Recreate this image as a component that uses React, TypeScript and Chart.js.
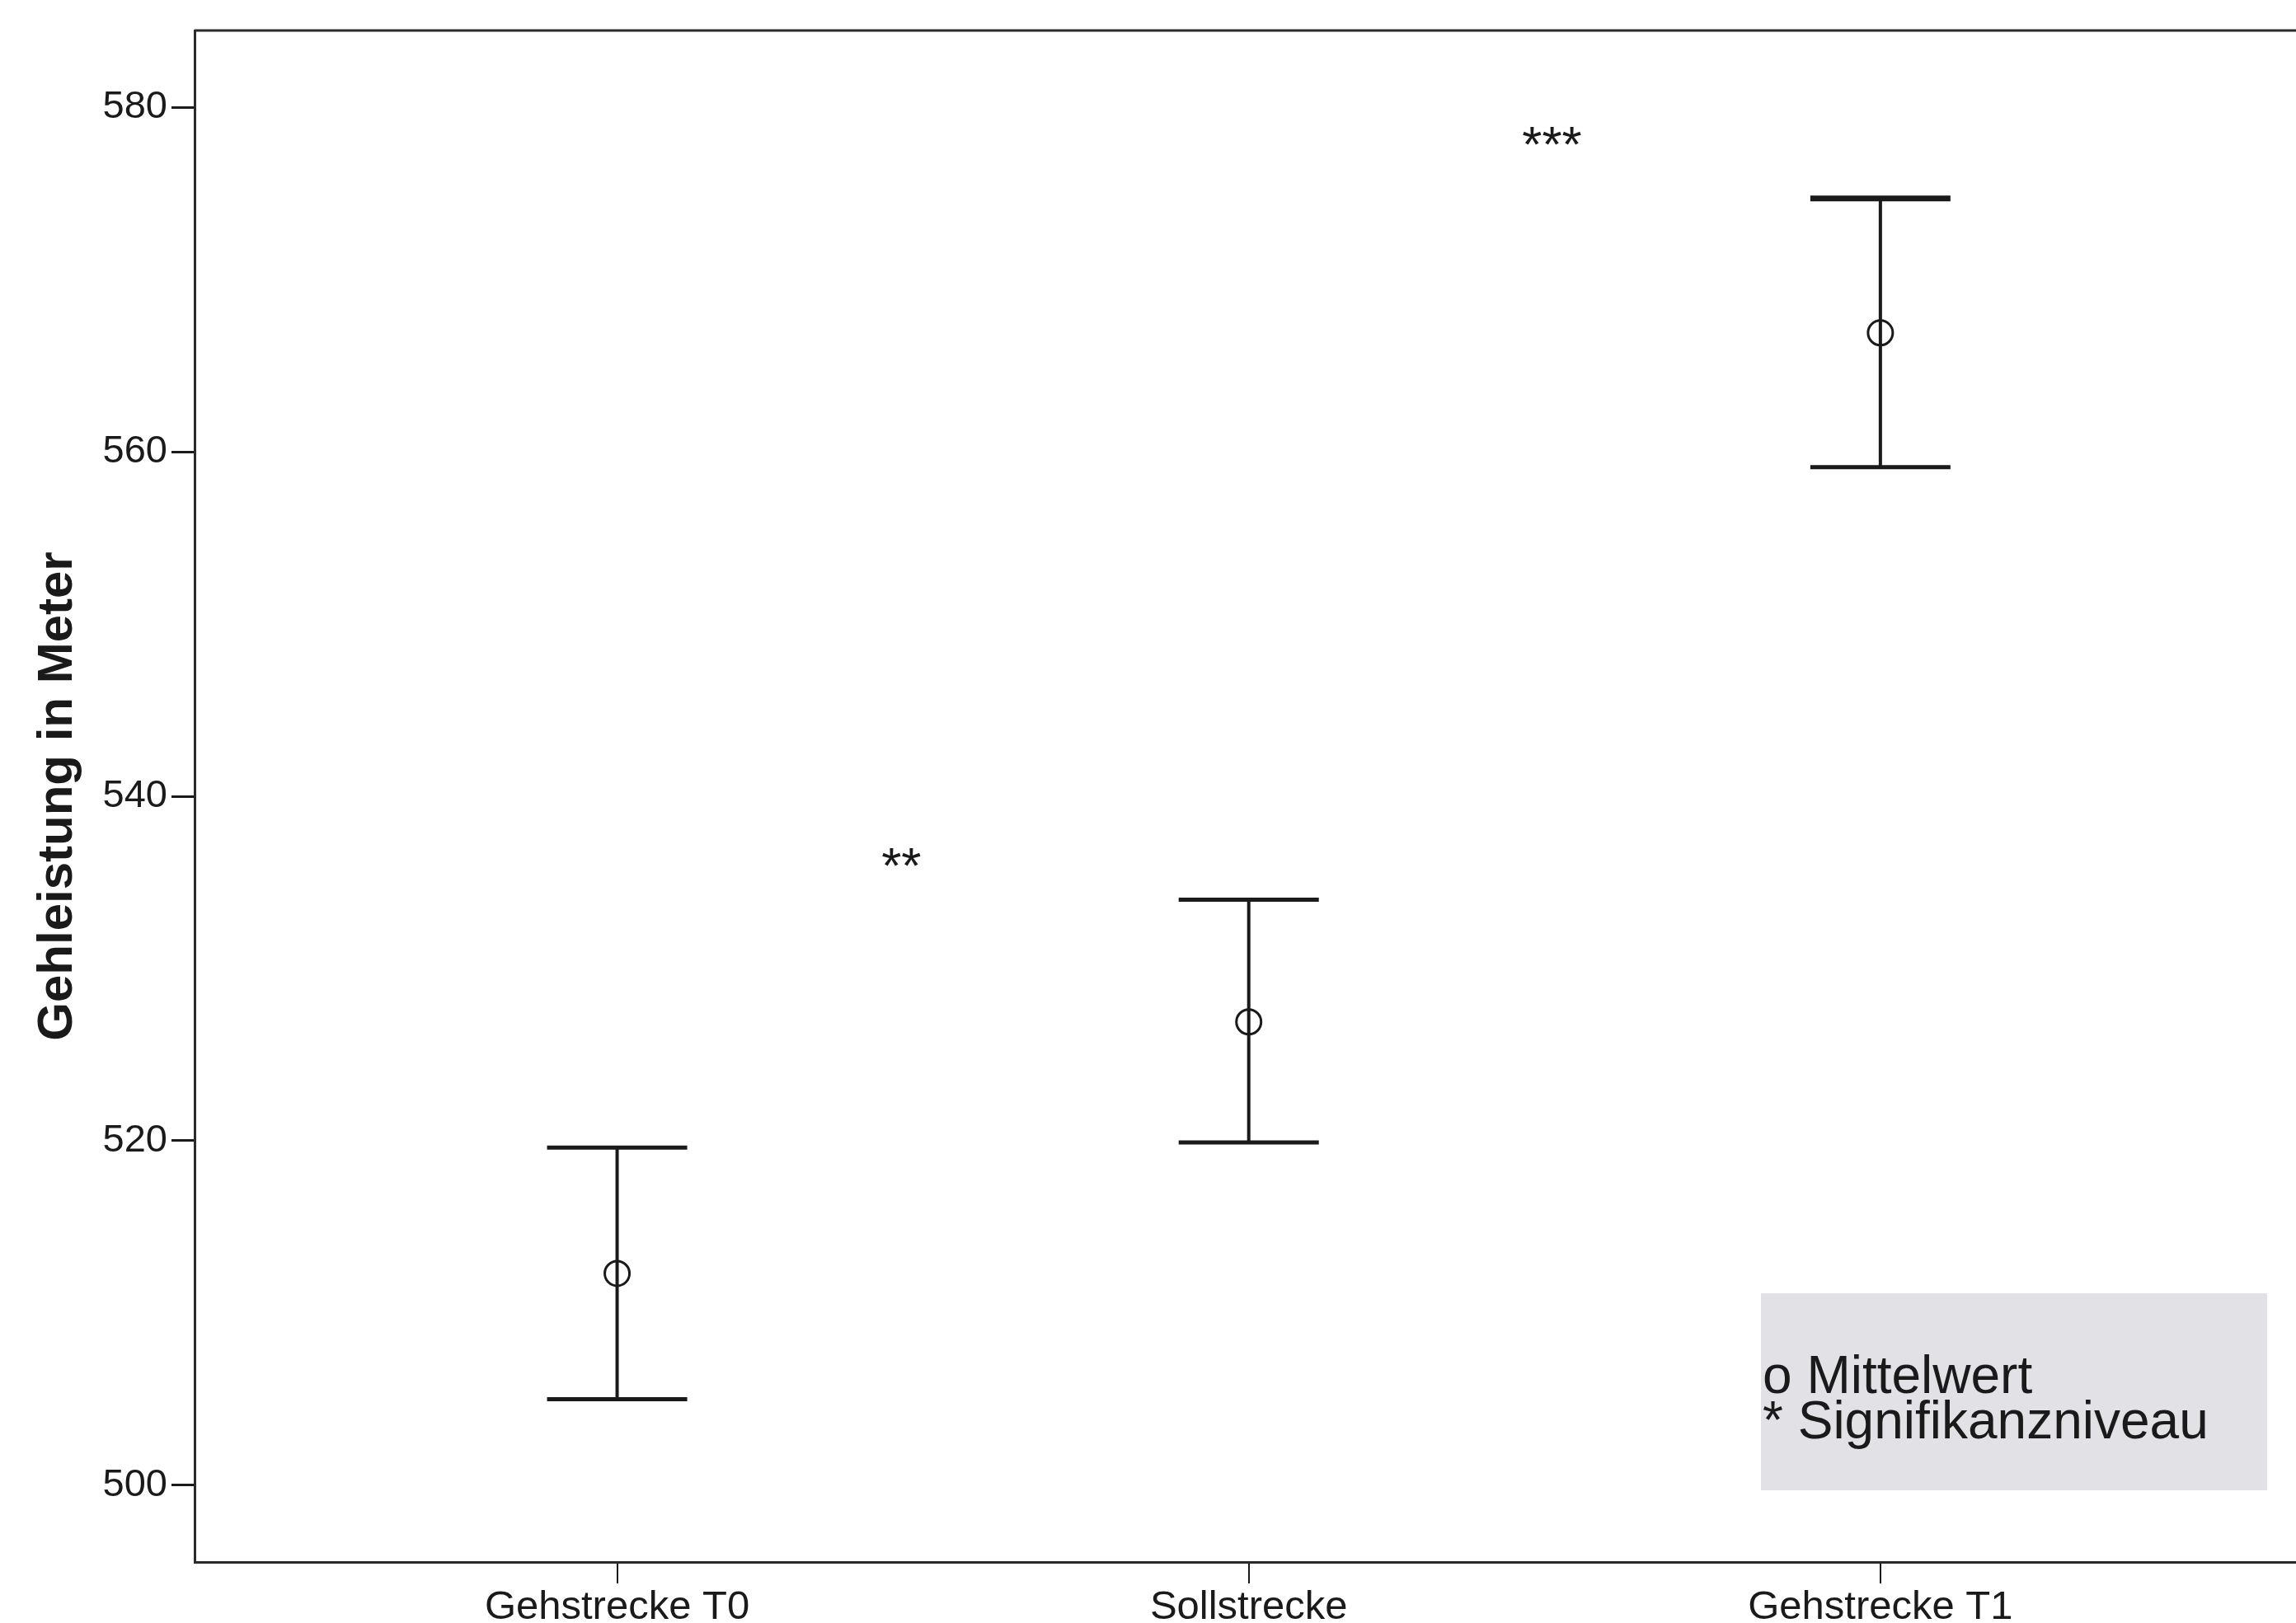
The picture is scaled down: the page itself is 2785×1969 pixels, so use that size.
import React, { useEffect, useRef } from "react";
import { Chart, registerables } from "chart.js";

Chart.register(...registerables);

// ---- data ----
const categories = ["Gehstrecke T0", "Sollstrecke", "Gehstrecke T1"];
const meanValues = [512.3, 526.9, 566.9];
const upperValues = [519.6, 534.0, 574.7];
const lowerValues = [505.0, 519.9, 559.1];
const yTickValues = [500, 520, 540, 560, 580];
const sigLabels = ["**", "***"];
const sigX = [1.45, 2.48];
const sigY = [536.3, 578.2];
const legendLines = ["o Mittelwert", "* Signifikanzniveau"];
const yTitle = "Gehleistung in Meter";

const Y_MIN = 495.55;
const Y_MAX = 584.45;
const X_MIN = 0.331;
const X_MAX = 3.658;

const FONT = "'Liberation Sans', Arial, sans-serif";
const INK = "#1a1a1a";

const W = 2785;
const H = 1969;

const overlayPlugin = {
  id: "overlay",
  beforeDatasetsDraw(chart: any) {
    const { ctx, scales, chartArea } = chart;
    const xs = scales.x;
    const ys = scales.y;
    ctx.save();
    ctx.strokeStyle = INK;
    ctx.lineCap = "butt";
    for (let i = 0; i < meanValues.length; i++) {
      const px = xs.getPixelForValue(i + 1);
      const pu = ys.getPixelForValue(upperValues[i]);
      const pl = ys.getPixelForValue(lowerValues[i]);
      ctx.lineWidth = 4;
      ctx.beginPath();
      ctx.moveTo(px, pu);
      ctx.lineTo(px, pl);
      ctx.stroke();
      ctx.lineWidth = i === 2 ? 7 : 5;
      ctx.beginPath();
      ctx.moveTo(px - 85, pu);
      ctx.lineTo(px + 85, pu);
      ctx.stroke();
      ctx.lineWidth = 5;
      ctx.beginPath();
      ctx.moveTo(px - 85, pl);
      ctx.lineTo(px + 85, pl);
      ctx.stroke();
    }
    // top frame line
    ctx.lineWidth = 3;
    ctx.strokeStyle = "#2a2a2a";
    ctx.beginPath();
    ctx.moveTo(chartArea.left, chartArea.top);
    ctx.lineTo(chartArea.right, chartArea.top);
    ctx.stroke();
    ctx.restore();
  },
  afterDraw(chart: any) {
    const { ctx, scales, chartArea } = chart;
    const xs = scales.x;
    const ys = scales.y;
    ctx.save();
    // significance stars
    const starSize = 62;
    ctx.font = `${starSize}px ${FONT}`;
    ctx.fillStyle = INK;
    ctx.textAlign = "center";
    ctx.textBaseline = "alphabetic";
    for (let i = 0; i < sigLabels.length; i++) {
      const px = xs.getPixelForValue(sigX[i]);
      const py = ys.getPixelForValue(sigY[i]);
      ctx.fillText(sigLabels[i], px, py + starSize * 0.45);
    }
    // legend box
    const boxRight = chartArea.right - 35;
    const boxBottom = chartArea.bottom - 87;
    const boxW = 614;
    const boxH = 239;
    ctx.fillStyle = "#e1e1e6";
    ctx.fillRect(boxRight - boxW, boxBottom - boxH, boxW, boxH);
    ctx.fillStyle = INK;
    ctx.font = `64px ${FONT}`;
    ctx.textAlign = "left";
    ctx.textBaseline = "alphabetic";
    const textX = boxRight - boxW + 2;
    ctx.fillText(legendLines[0], textX, boxBottom - boxH + 121);
    ctx.fillText(legendLines[1], textX, boxBottom - boxH + 176);
    ctx.restore();
  },
};

export default function App() {
  const canvasRef = useRef<HTMLCanvasElement | null>(null);

  useEffect(() => {
    const canvas = canvasRef.current;
    if (!canvas) return;
    const chart = new Chart(canvas, {
      type: "scatter",
      data: {
        datasets: [
          {
            label: "Mittelwert",
            data: meanValues.map((v, i) => ({ x: i + 1, y: v })),
            pointStyle: "circle",
            pointRadius: 15,
            pointBorderWidth: 3,
            pointBorderColor: INK,
            pointBackgroundColor: "rgba(0,0,0,0)",
            showLine: false,
          },
        ],
      },
      options: {
        animation: false,
        responsive: false,
        devicePixelRatio: 1,
        layout: { autoPadding: false, padding: { top: 37, left: 0, right: 0, bottom: 0 } },
        plugins: {
          legend: { display: false },
          tooltip: { enabled: false },
          title: { display: false },
        },
        scales: {
          x: {
            type: "linear",
            min: X_MIN,
            max: X_MAX,
            afterBuildTicks: (scale: any) => {
              scale.ticks = categories.map((_, i) => ({ value: i + 1 }));
            },
            afterFit: (scale: any) => {
              scale.height = H - 1895;
              scale.paddingLeft = 0;
              scale.paddingRight = 0;
            },
            ticks: {
              autoSkip: false,
              maxRotation: 0,
              padding: 0,
              color: INK,
              font: { family: FONT, size: 49 },
              callback: (v: any) => categories[Math.round(Number(v)) - 1] ?? "",
            },
            grid: {
              drawOnChartArea: false,
              drawTicks: true,
              tickLength: 26,
              color: INK,
              lineWidth: 2,
            },
            border: { display: true, color: "#2a2a2a", width: 3 },
          },
          y: {
            type: "linear",
            min: Y_MIN,
            max: Y_MAX,
            afterBuildTicks: (scale: any) => {
              scale.ticks = yTickValues.map((v) => ({ value: v }));
            },
            afterFit: (scale: any) => {
              scale.width = 236;
              scale.paddingTop = 0;
              scale.paddingBottom = 0;
            },
            ticks: {
              padding: 5,
              color: INK,
              font: { family: FONT, size: 47 },
              callback: (v: any) => String(v),
            },
            grid: {
              drawOnChartArea: false,
              drawTicks: true,
              tickLength: 28,
              color: INK,
              lineWidth: 3,
            },
            border: { display: true, color: "#2a2a2a", width: 3 },
            title: {
              display: true,
              text: yTitle,
              color: INK,
              font: { family: FONT, size: 60, weight: "bold" },
              padding: { top: 34, bottom: 0 },
            },
          },
        },
      },
      plugins: [overlayPlugin],
    });
    return () => chart.destroy();
  }, []);

  return (
    <div
      style={{
        position: "fixed",
        left: 0,
        top: 0,
        width: W,
        height: H,
        background: "#fff",
        overflow: "hidden",
      }}
    >
      <canvas ref={canvasRef} width={W} height={H} style={{ width: W, height: H, display: "block" }} />
    </div>
  );
}
